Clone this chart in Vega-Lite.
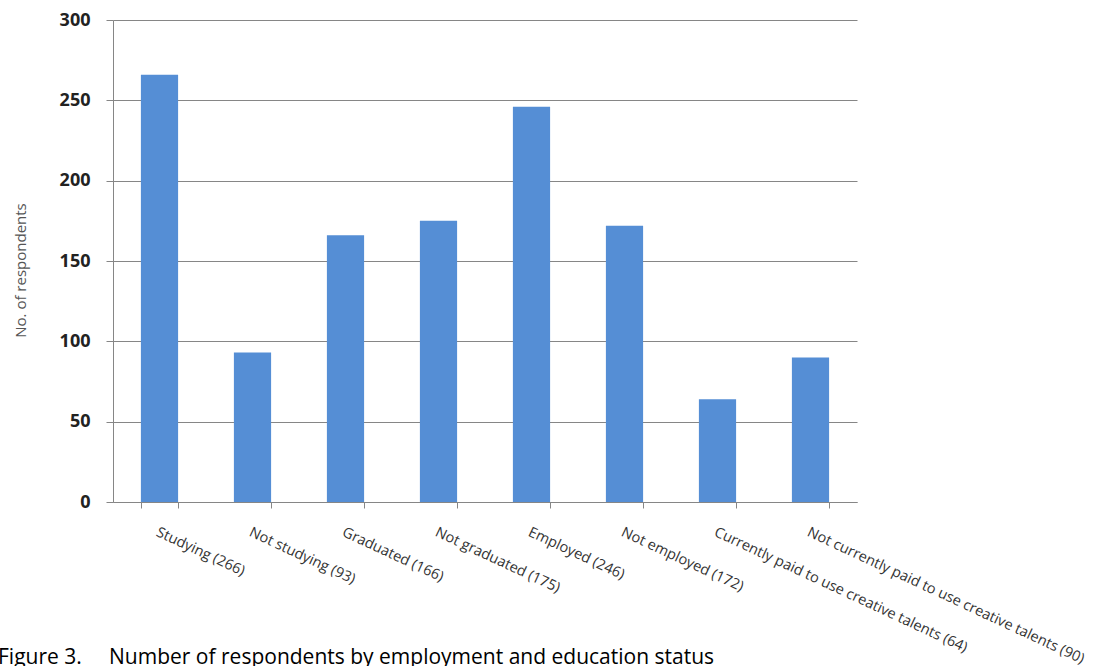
{
  "$schema": "https://vega.github.io/schema/vega-lite/v6.json",
  "autosize": {"type": "none"},
  "padding": {"left": 113, "top": 20, "right": 243, "bottom": 164},
  "width": 744,
  "height": 482,
  "background": "white",
  "data": {
    "values": [
      {"status": "Studying (266)", "respondents": 266},
      {"status": "Not studying (93)", "respondents": 93},
      {"status": "Graduated (166)", "respondents": 166},
      {"status": "Not graduated (175)", "respondents": 175},
      {"status": "Employed (246)", "respondents": 246},
      {"status": "Not employed (172)", "respondents": 172},
      {"status": "Currently paid to use creative talents (64)", "respondents": 64},
      {"status": "Not currently paid to use creative talents (90)", "respondents": 90}
    ]
  },
  "title": {
    "text": "Figure 3.\u00a0\u00a0\u00a0\u00a0 Number of respondents by employment and education status",
    "orient": "bottom",
    "anchor": "start",
    "frame": "group",
    "font": "Open Sans",
    "fontSize": 21,
    "fontWeight": "normal",
    "color": "#000000",
    "dx": -115,
    "dy": -23
  },
  "mark": {"type": "bar", "color": "#558ED5"},
  "encoding": {
    "x": {
      "field": "status",
      "type": "nominal",
      "sort": null,
      "scale": {"paddingInner": 0.6, "paddingOuter": 0.3},
      "axis": {
        "title": null,
        "tickBand": "extent",
        "labelAngle": 25,
        "labelAlign": "left",
        "labelBaseline": "top",
        "labelPadding": 17,
        "labelFont": "Open Sans",
        "labelFontSize": 14.5,
        "labelColor": "#333333",
        "labelLimit": 500,
        "domainColor": "#868686",
        "tickColor": "#868686",
        "tickSize": 6,
        "grid": false
      }
    },
    "y": {
      "field": "respondents",
      "type": "quantitative",
      "scale": {"domain": [0, 300]},
      "axis": {
        "title": "No. of respondents",
        "titleFont": "Open Sans",
        "titleFontSize": 15,
        "titleFontWeight": "normal",
        "titleColor": "#555555",
        "titleAngle": -90,
        "titleX": -93,
        "titleY": 250,
        "titleAlign": "center",
        "titleBaseline": "middle",
        "values": [0, 50, 100, 150, 200, 250, 300],
        "labelFont": "Open Sans",
        "labelFontSize": 18,
        "labelFontWeight": "bold",
        "labelColor": "#222222",
        "labelPadding": 16,
        "domainColor": "#868686",
        "tickColor": "#868686",
        "tickSize": 7,
        "gridColor": "#868686",
        "gridWidth": 1
      }
    }
  },
  "config": {
    "view": {"stroke": null}
  }
}
